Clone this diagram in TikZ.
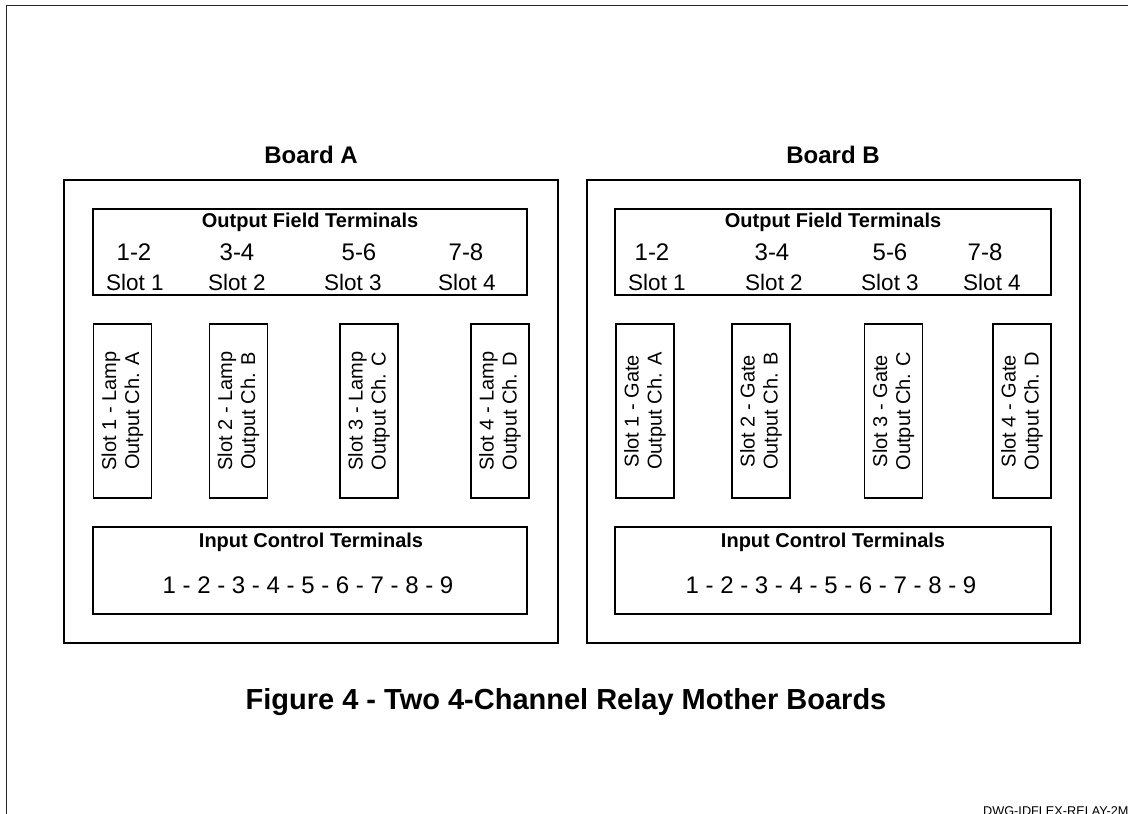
\documentclass[tikz,border=0pt]{standalone}
\usepackage{fontspec}
\setmainfont{Liberation Sans}
\begin{document}
\begin{tikzpicture}[x=1pt,y=-1pt,
  box/.style={draw=black,line width=1.3pt,rectangle,inner sep=0pt},
  slotbox/.style={box,minimum width=58pt,minimum height=174pt},
  hd/.style={font=\fontsize{20}{24}\selectfont\bfseries,inner sep=0pt},
  bighd/.style={font=\fontsize{24}{28}\selectfont\bfseries,inner sep=0pt},
  txt/.style={font=\fontsize{22.5}{26}\selectfont,inner sep=0pt},
  num/.style={font=\fontsize{24}{28}\selectfont,inner sep=0pt},
  rtxt/.style={font=\fontsize{20}{23}\selectfont,inner sep=0pt,align=center,rotate=90}]
\useasboundingbox (0,0) rectangle (1128,814);
% drawing frame
\draw[line width=1.8pt,black!85] (6.5,814) -- (6.5,5.5) -- (1128,5.5);
% ---------- Board A ----------
\node[bighd] (titA) at (311,155) {Board A};
\node[box,minimum width=494pt,minimum height=463pt] (brdA) at (311,411.5) {};
\node[box,minimum width=434pt,minimum height=86pt] (outA) at (310,252) {};
\node[hd] (outAt) at (310,222) {Output Field Terminals};
\node[num] (a12) at (134,252) {1-2};
\node[num] (a34) at (237,252) {3-4};
\node[num] (a56) at (359,252) {5-6};
\node[num] (a78) at (466,252) {7-8};
\node[txt] (as1) at (135,282) {Slot 1};
\node[txt] (as2) at (237,282) {Slot 2};
\node[txt] (as3) at (353,282) {Slot 3};
\node[txt] (as4) at (467,282) {Slot 4};
\node[slotbox] (sa1) at (122.5,411) {};
\node[slotbox] (sa2) at (238.5,411) {};
\node[slotbox] (sa3) at (369,411) {};
\node[slotbox] (sa4) at (500,411) {};
\node[rtxt] at (sa1) {Slot 1 - Lamp\\Output Ch. A};
\node[rtxt] at (sa2) {Slot 2 - Lamp\\Output Ch. B};
\node[rtxt] at (sa3) {Slot 3 - Lamp\\Output Ch. C};
\node[rtxt] at (sa4) {Slot 4 - Lamp\\Output Ch. D};
\node[box,minimum width=434pt,minimum height=87pt] (inA) at (310,570.5) {};
\node[hd] (inAt) at (311,542) {Input Control Terminals};
\node[num] (inAn) at (308,585) {1 - 2 - 3 - 4 - 5 - 6 - 7 - 8 - 9};
% ---------- Board B ----------
\node[bighd] (titB) at (833,155) {Board B};
\node[box,minimum width=493pt,minimum height=463pt] (brdB) at (833.5,411.5) {};
\node[box,minimum width=436pt,minimum height=86pt] (outB) at (833,252) {};
\node[hd] (outBt) at (833,222) {Output Field Terminals};
\node[num] (b12) at (652,252) {1-2};
\node[num] (b34) at (772,252) {3-4};
\node[num] (b56) at (890,252) {5-6};
\node[num] (b78) at (985,252) {7-8};
\node[txt] (bs1) at (657,282) {Slot 1};
\node[txt] (bs2) at (774,282) {Slot 2};
\node[txt] (bs3) at (890,282) {Slot 3};
\node[txt] (bs4) at (992,282) {Slot 4};
\node[slotbox] (sb1) at (645,411) {};
\node[slotbox] (sb2) at (761,411) {};
\node[slotbox] (sb3) at (893.5,411) {};
\node[slotbox] (sb4) at (1022,411) {};
\node[rtxt] at (sb1) {Slot 1 - Gate\\Output Ch. A};
\node[rtxt] at (sb2) {Slot 2 - Gate\\Output Ch. B};
\node[rtxt] at (sb3) {Slot 3 - Gate\\Output Ch. C};
\node[rtxt] at (sb4) {Slot 4 - Gate\\Output Ch. D};
\node[box,minimum width=436pt,minimum height=87pt] (inB) at (833,570.5) {};
\node[hd] (inBt) at (833,542) {Input Control Terminals};
\node[num] (inBn) at (831,585) {1 - 2 - 3 - 4 - 5 - 6 - 7 - 8 - 9};
% ---------- caption ----------
\node[font=\fontsize{29}{33}\selectfont\bfseries,inner sep=0pt] (cap) at (566,702) {Figure 4 - Two 4-Channel Relay Mother Boards};
\node[font=\fontsize{12.7}{15}\selectfont,inner sep=0pt,anchor=base west] (dwg) at (983,815) {DWG-IDFLEX-RELAY-2MI};
\end{tikzpicture}
\end{document}
